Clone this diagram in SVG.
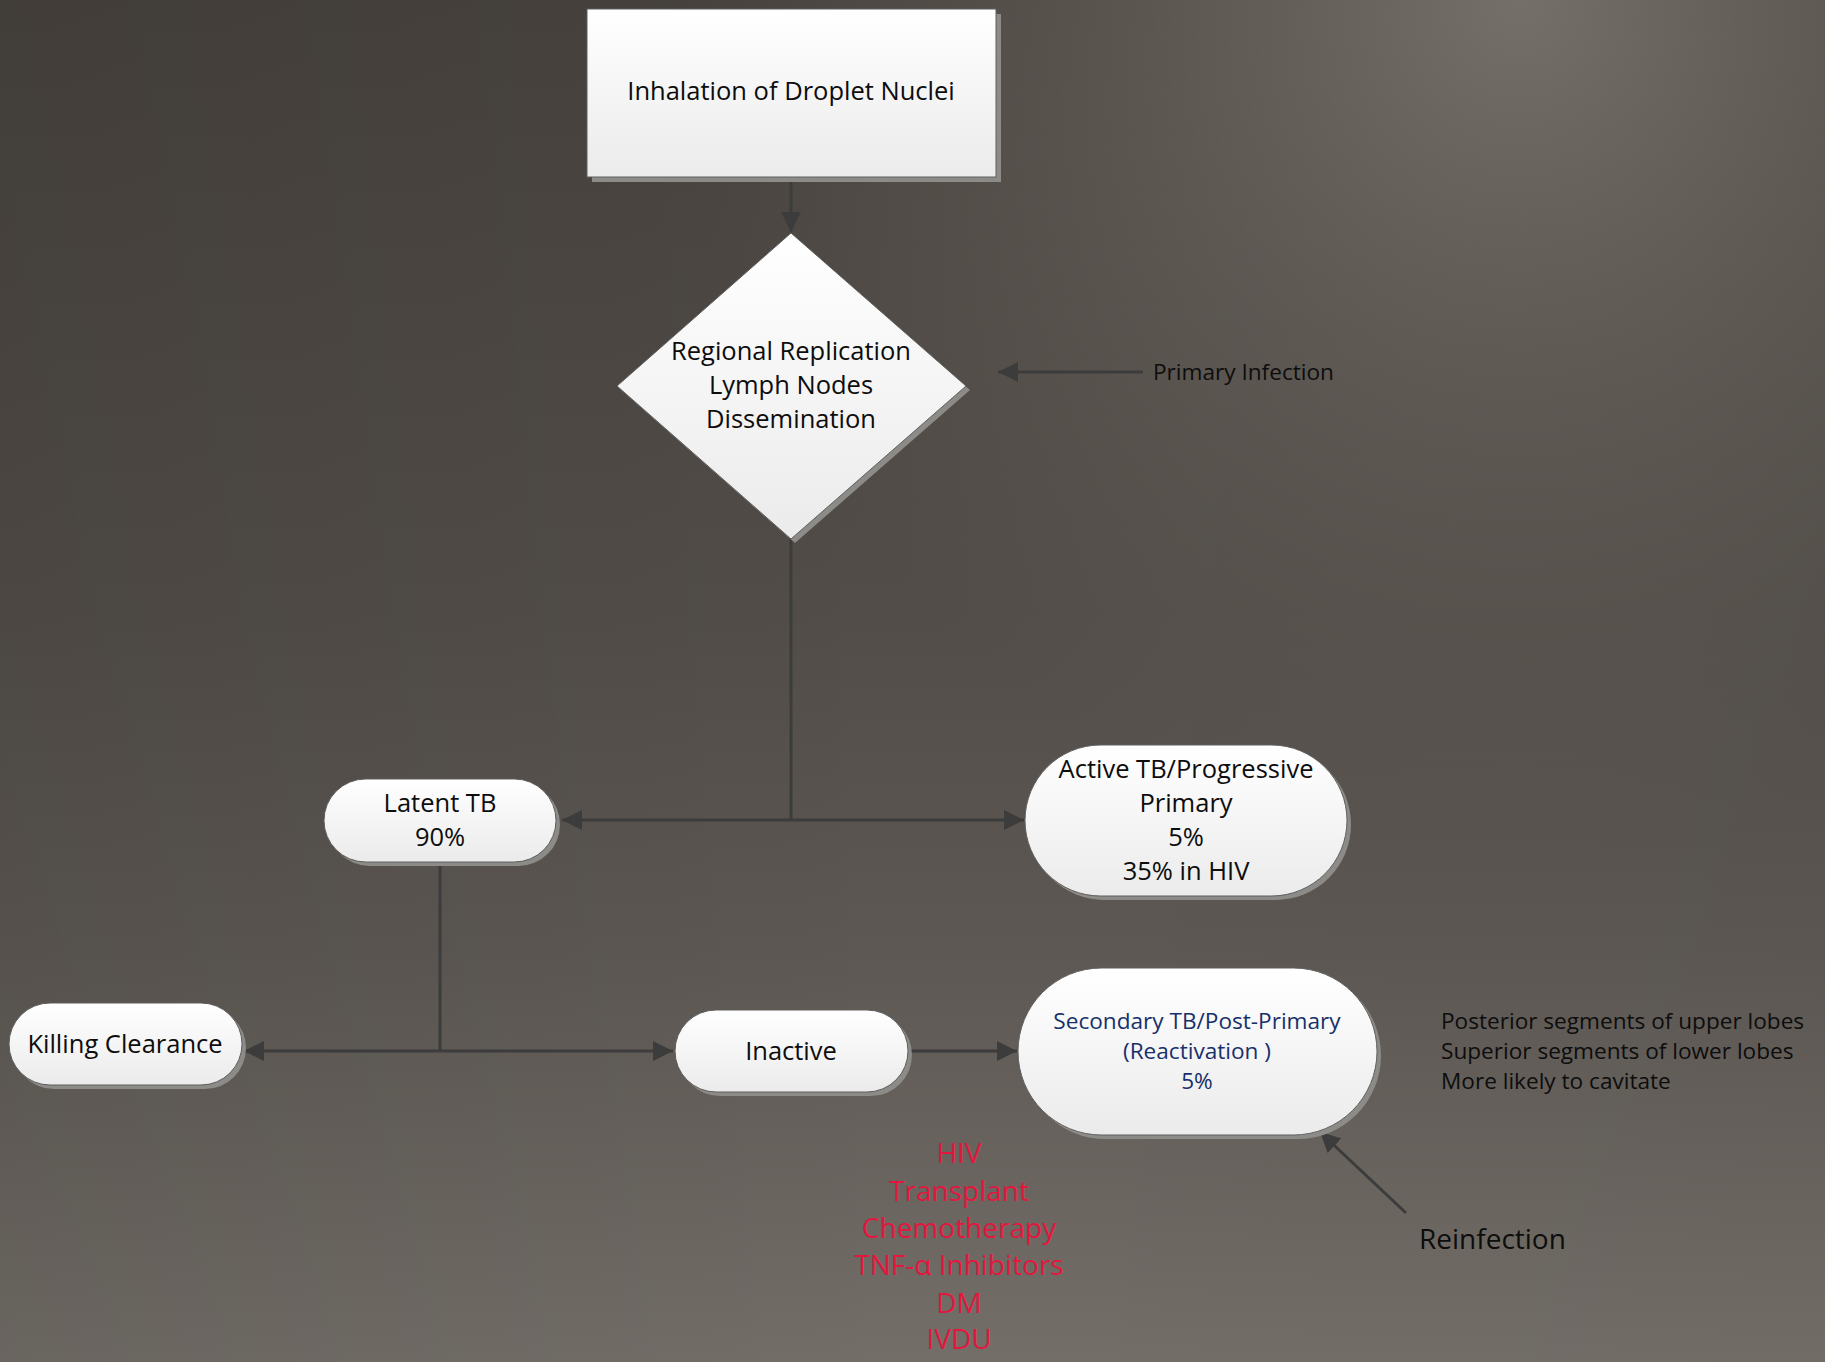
<svg xmlns="http://www.w3.org/2000/svg" width="1825" height="1362" viewBox="0 0 1825 1362">
<defs>
<linearGradient id="bgv" x1="0" y1="0" x2="0" y2="1">
<stop offset="0" stop-color="#47423d"/>
<stop offset="0.45" stop-color="#524d48"/>
<stop offset="0.7" stop-color="#5d5853"/>
<stop offset="1" stop-color="#736e68"/>
</linearGradient>
<linearGradient id="bgh" x1="0" y1="0" x2="1" y2="0">
<stop offset="0" stop-color="#000" stop-opacity="0.08"/>
<stop offset="0.5" stop-color="#000" stop-opacity="0"/>
<stop offset="1" stop-color="#000" stop-opacity="0.02"/>
</linearGradient>
<radialGradient id="bgr" cx="1520" cy="0" r="850" gradientUnits="userSpaceOnUse">
<stop offset="0" stop-color="#847f78" stop-opacity="0.75"/>
<stop offset="0.45" stop-color="#78736c" stop-opacity="0.4"/>
<stop offset="1" stop-color="#6a655e" stop-opacity="0"/>
</radialGradient>
<linearGradient id="nodefill" x1="0" y1="0" x2="0" y2="1">
<stop offset="0" stop-color="#ffffff"/>
<stop offset="1" stop-color="#ebebeb"/>
</linearGradient>
<marker id="arr" markerUnits="userSpaceOnUse" markerWidth="22" markerHeight="20" refX="20" refY="10" orient="auto">
<path d="M0,0 L20,10 L0,20 z" fill="#3c3c3c"/>
</marker>
<style>
.node{fill:url(#nodefill);stroke:#5e5e5e;stroke-width:1}
.shadow{fill:#8d8b88}
.t{font-family:"Open Sans","Noto Sans","Liberation Sans",sans-serif;fill:#0d0d0d;text-anchor:middle}
.lbl{font-family:"Open Sans","Noto Sans","Liberation Sans",sans-serif;fill:#0d0d0d}
.f25{font-size:25.5px}
.f22{font-size:22.6px}
.blue{fill:#17306b}
.red{fill:#e3173e;font-size:28px}
.conn{stroke:#3c3c3c;stroke-width:3;fill:none}
.arrow{marker-end:url(#arr)}
</style>
</defs>
<rect x="0" y="0" width="1825" height="1362" fill="url(#bgv)"/>
<rect x="0" y="0" width="1825" height="1362" fill="url(#bgh)"/>
<rect x="0" y="0" width="1825" height="1362" fill="url(#bgr)"/>

<g id="connectors">
<line class="conn arrow" x1="791" y1="177" x2="791" y2="232"/>
<line class="conn arrow" x1="1143" y1="372" x2="998" y2="372"/>
<line class="conn" x1="791" y1="539" x2="791" y2="820"/>
<line class="conn arrow" x1="791" y1="820" x2="562" y2="820"/>
<line class="conn arrow" x1="791" y1="820" x2="1024" y2="820"/>
<line class="conn" x1="440" y1="862" x2="440" y2="1051"/>
<line class="conn arrow" x1="440" y1="1051" x2="244" y2="1051"/>
<line class="conn arrow" x1="440" y1="1051" x2="673" y2="1051"/>
<line class="conn arrow" x1="908" y1="1051" x2="1017" y2="1051"/>
<line class="conn arrow" x1="1406" y1="1213" x2="1320" y2="1132"/>
</g>

<g id="inhalation">
<rect class="shadow" x="592" y="14" width="409" height="168"/>
<rect class="node" x="587" y="9" width="409" height="168"/>
<text class="t f25" x="791" y="100">Inhalation of Droplet Nuclei</text>
</g>

<g id="regional">
<polygon class="shadow" points="795,237 970,390 795,543 621,390"/>
<polygon class="node" points="791,233 966,386 791,539 617,386"/>
<text class="t f25" x="791" y="360">Regional Replication</text>
<text class="t f25" x="791" y="394">Lymph Nodes</text>
<text class="t f25" x="791" y="428">Dissemination</text>
</g>

<g id="primary-infection">
<text class="lbl f22" x="1153" y="380">Primary Infection</text>
</g>

<g id="latent">
<rect class="shadow" x="328" y="783" width="232" height="83" rx="41.5"/>
<rect class="node" x="324" y="779" width="232" height="83" rx="41.5"/>
<text class="t f25" x="440" y="812">Latent TB</text>
<text class="t f25" x="440" y="846">90%</text>
</g>

<g id="active">
<rect class="shadow" x="1029" y="749" width="322" height="151" rx="75.5"/>
<rect class="node" x="1025" y="745" width="322" height="151" rx="75.5"/>
<text class="t f25" x="1186" y="778">Active TB/Progressive</text>
<text class="t f25" x="1186" y="812">Primary</text>
<text class="t f25" x="1186" y="846">5%</text>
<text class="t f25" x="1186" y="880">35% in HIV</text>
</g>

<g id="killing">
<rect class="shadow" x="13" y="1007" width="233" height="82" rx="41"/>
<rect class="node" x="9" y="1003" width="233" height="82" rx="41"/>
<text class="t f25" x="125" y="1053">Killing Clearance</text>
</g>

<g id="inactive">
<rect class="shadow" x="679" y="1014" width="233" height="82" rx="41"/>
<rect class="node" x="675" y="1010" width="233" height="82" rx="41"/>
<text class="t f25" x="791" y="1060">Inactive</text>
</g>

<g id="secondary">
<rect class="shadow" x="1022" y="972" width="359" height="167" rx="83.5"/>
<rect class="node" x="1018" y="968" width="359" height="167" rx="83.5"/>
<text class="t f22 blue" x="1197" y="1029">Secondary TB/Post-Primary</text>
<text class="t f22 blue" x="1197" y="1059">(Reactivation )</text>
<text class="t f22 blue" x="1197" y="1089">5%</text>
</g>

<g id="locations">
<text class="lbl f22" x="1441" y="1029">Posterior segments of upper lobes</text>
<text class="lbl f22" x="1441" y="1059">Superior segments of lower lobes</text>
<text class="lbl f22" x="1441" y="1089">More likely to cavitate</text>
</g>

<g id="risk-factors">
<text class="t red" x="959" y="1163">HIV</text>
<text class="t red" x="959" y="1201">Transplant</text>
<text class="t red" x="959" y="1238">Chemotherapy</text>
<text class="t red" x="959" y="1275">TNF-α Inhibitors</text>
<text class="t red" x="959" y="1313">DM</text>
<text class="t red" x="959" y="1349">IVDU</text>
</g>

<g id="reinfection">
<text class="lbl" font-size="28" x="1419" y="1249">Reinfection</text>
</g>
</svg>
